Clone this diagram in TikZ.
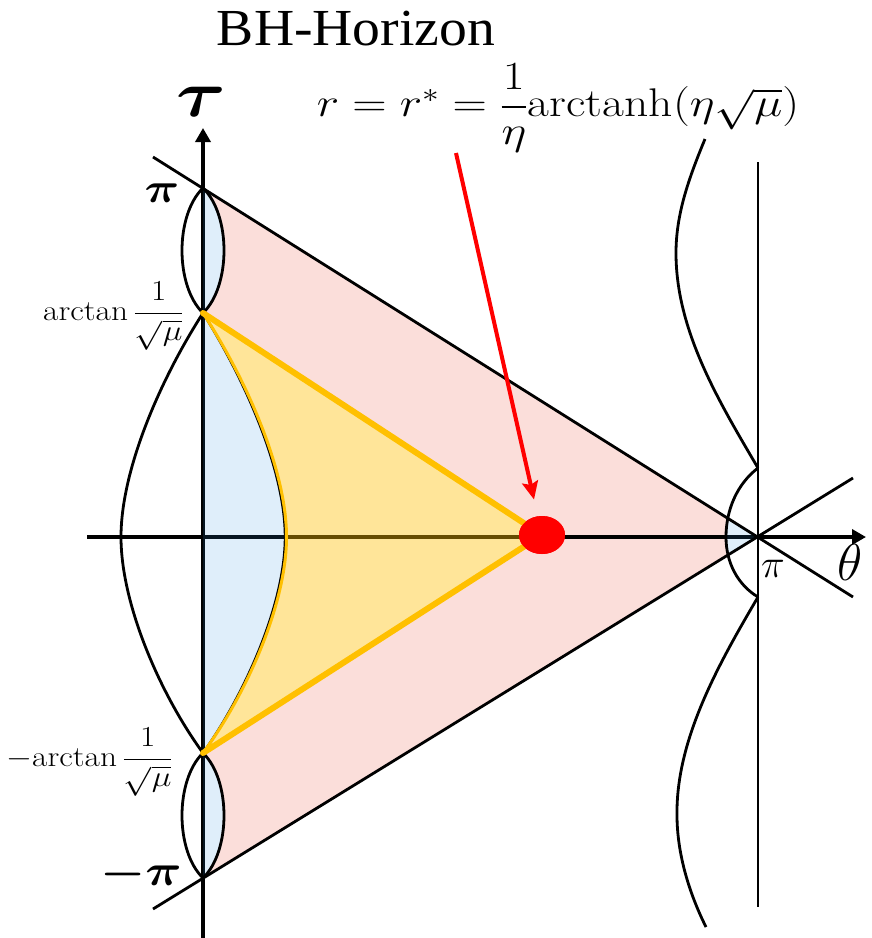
\RequirePackage{fix-cm}
\documentclass[tikz,border=0pt]{standalone}
\usepackage{amsmath,amssymb}
\usepackage{graphicx}
\usepackage{fontspec}
\newfontfamily\timesfont{Liberation Serif}
\usetikzlibrary{arrows.meta,shapes.geometric}
\definecolor{pinkfill}{RGB}{251,222,218}
\definecolor{bluetint}{RGB}{42,141,228}
\definecolor{gold}{RGB}{255,192,0}
\newcommand\fsz[1]{\fontsize{#1}{#1}\selectfont}
\newcommand\wide[1]{\scalebox{1.15}[1]{#1}}

\begin{document}
\begin{tikzpicture}[x=1pt,y=-1pt,
  axis/.style={line width=4.2pt, -{Triangle[length=14pt,width=15pt]}},
  curve/.style={line width=2.8pt},
  goldline/.style={draw=gold, line width=6pt, line cap=round},
  redarrow/.style={draw=red, line width=4pt, -{Stealth[length=18pt,width=16pt,inset=3pt]}, shorten >=17pt},
  lbl/.style={inner sep=0pt},
  ]
  \useasboundingbox (0,0) rectangle (872,938);

  % points on the axes
  \coordinate (O) at (203,537);
  \coordinate (tp) at (203,188);
  \coordinate (tm) at (203,878);
  \coordinate (ap) at (203,313);
  \coordinate (am) at (203,753);
  \coordinate (R) at (758,537);

  % light cone
  \fill[pinkfill] (tp) -- (R) -- (tm) -- cycle;
  \begin{scope}
    \clip (758,468) .. controls (737,484) and (726,510) .. (726,537)
      .. controls (726,563) and (738,585) .. (758,597) -- cycle;
    \fill[white] (tp) -- (R) -- (tm) -- cycle;
  \end{scope}
  \fill[white] (ap) -- (542,535) -- (am) -- cycle;
  \fill[white] (tp) .. controls (231,215) and (231,286) .. (ap) -- cycle;
  \fill[white] (am) .. controls (231,780) and (231,851) .. (tm) -- cycle;

  % axes
  \coordinate (tbot) at (203,938);
  \coordinate (ttop) at (203,128);
  \coordinate (hleft) at (87,537);
  \coordinate (hright) at (866,537);
  \draw[axis] (tbot) -- (ttop);
  \draw[axis] (hleft) -- (hright);

  % tinted regions
  \begin{scope}
    \clip (758,468) .. controls (737,484) and (726,510) .. (726,537)
      .. controls (726,563) and (738,585) .. (758,597) -- cycle;
    \fill[bluetint, fill opacity=0.15] (tp) -- (R) -- (tm) -- cycle;
  \end{scope}
  \fill[bluetint, fill opacity=0.15] (ap) .. controls (245,380) and (285,470) .. (285,537)
    .. controls (285,604) and (245,694) .. (am) -- cycle;
  \fill[bluetint, fill opacity=0.15] (tp) .. controls (231,215) and (231,286) .. (ap) -- cycle;
  \fill[bluetint, fill opacity=0.15] (am) .. controls (231,780) and (231,851) .. (tm) -- cycle;
  \fill[gold, fill opacity=0.4] (ap) .. controls (245,380) and (285,470) .. (285,537)
    .. controls (285,604) and (245,694) .. (am) -- (542,535) -- cycle;

  % null lines
  \coordinate (nl1) at (153,157);
  \coordinate (nr1) at (853,597);
  \coordinate (nl2) at (153,909);
  \coordinate (nr2) at (853,478);
  \draw[curve] (nl1) -- (nr1);
  \draw[curve] (nl2) -- (nr2);

  % boundary at theta = pi
  \coordinate (btop) at (758,162);
  \coordinate (bbot) at (758,907);
  \draw[curve] (btop) -- (bbot);

  % geodesics
  \draw[curve] (tp) .. controls (175,215) and (175,286) .. (ap);
  \draw[curve] (tp) .. controls (231,215) and (231,286) .. (ap);
  \draw[curve] (am) .. controls (175,780) and (175,851) .. (tm);
  \draw[curve] (am) .. controls (231,780) and (231,851) .. (tm);
  \draw[curve] (ap) .. controls (160,380) and (121,470) .. (121,537)
    .. controls (121,604) and (160,694) .. (am);
  \draw[curve] (705,139) .. controls (688,180) and (676,215) .. (676,253)
    .. controls (676,330) and (718,400) .. (758,468);
  \draw[curve] (758,468) .. controls (737,484) and (726,510) .. (726,537)
    .. controls (726,563) and (738,585) .. (758,597);
  \draw[curve] (758,597) .. controls (718,665) and (676,740) .. (677,815)
    .. controls (677,855) and (690,895) .. (706,927);

  % horizon region
  \draw[line width=2.4pt] (ap) .. controls (245,380) and (285,470) .. (285,537)
    .. controls (285,604) and (245,694) .. (am);
  \draw[draw=gold, line width=3pt, xshift=1.5pt] (ap) .. controls (245,380) and (285,470) .. (285,537)
    .. controls (285,604) and (245,694) .. (am);
  \node[ellipse, fill=red, minimum width=46pt, minimum height=38pt, inner sep=0pt] (dot) at (542,535) {};
  \draw[goldline] (ap) -- (dot.center);
  \draw[goldline] (am) -- (dot.center);
  \node[ellipse, fill=red, minimum width=46pt, minimum height=38pt, inner sep=0pt] (dot) at (542,535) {};

  % labels
  \node[lbl] (title) at (356,29) {\scalebox{1.07}[1]{\timesfont\fsz{52}BH-Horizon}};
  \coordinate (hz) at (456,153);
  \draw[redarrow] (hz) -- (dot);
  \node[lbl] (rstar) at (558,108) {\scalebox{1.19}[1]{\fsz{40}$r=r^*=\dfrac{1}{\eta}\mathrm{arctanh}(\eta\sqrt{\mu})$}};
  \node[lbl] (tau) at (201,102) {\wide{\fsz{66}$\boldsymbol{\tau}$}};
  \node[lbl] (theta) at (850,562) {\fsz{52}$\theta$};
  \node[lbl] (pitop) at (162,193) {\wide{\fsz{42}$\boldsymbol{\pi}$}};
  \node[lbl] (pibot) at (141,874) {\wide{\fsz{44}$\boldsymbol{-\pi}$}};
  \node[lbl] (piright) at (773,569) {\fsz{40}$\pi$};
  \node[lbl, anchor=east] (atp) at (184,316) {\wide{\fsz{29}$\displaystyle\arctan\frac{1}{\sqrt{\mu}}$}};
  \node[lbl, anchor=east] (atm) at (173,762) {\wide{\fsz{29}$\displaystyle-\!\arctan\frac{1}{\sqrt{\mu}}$}};
\end{tikzpicture}
\end{document}
